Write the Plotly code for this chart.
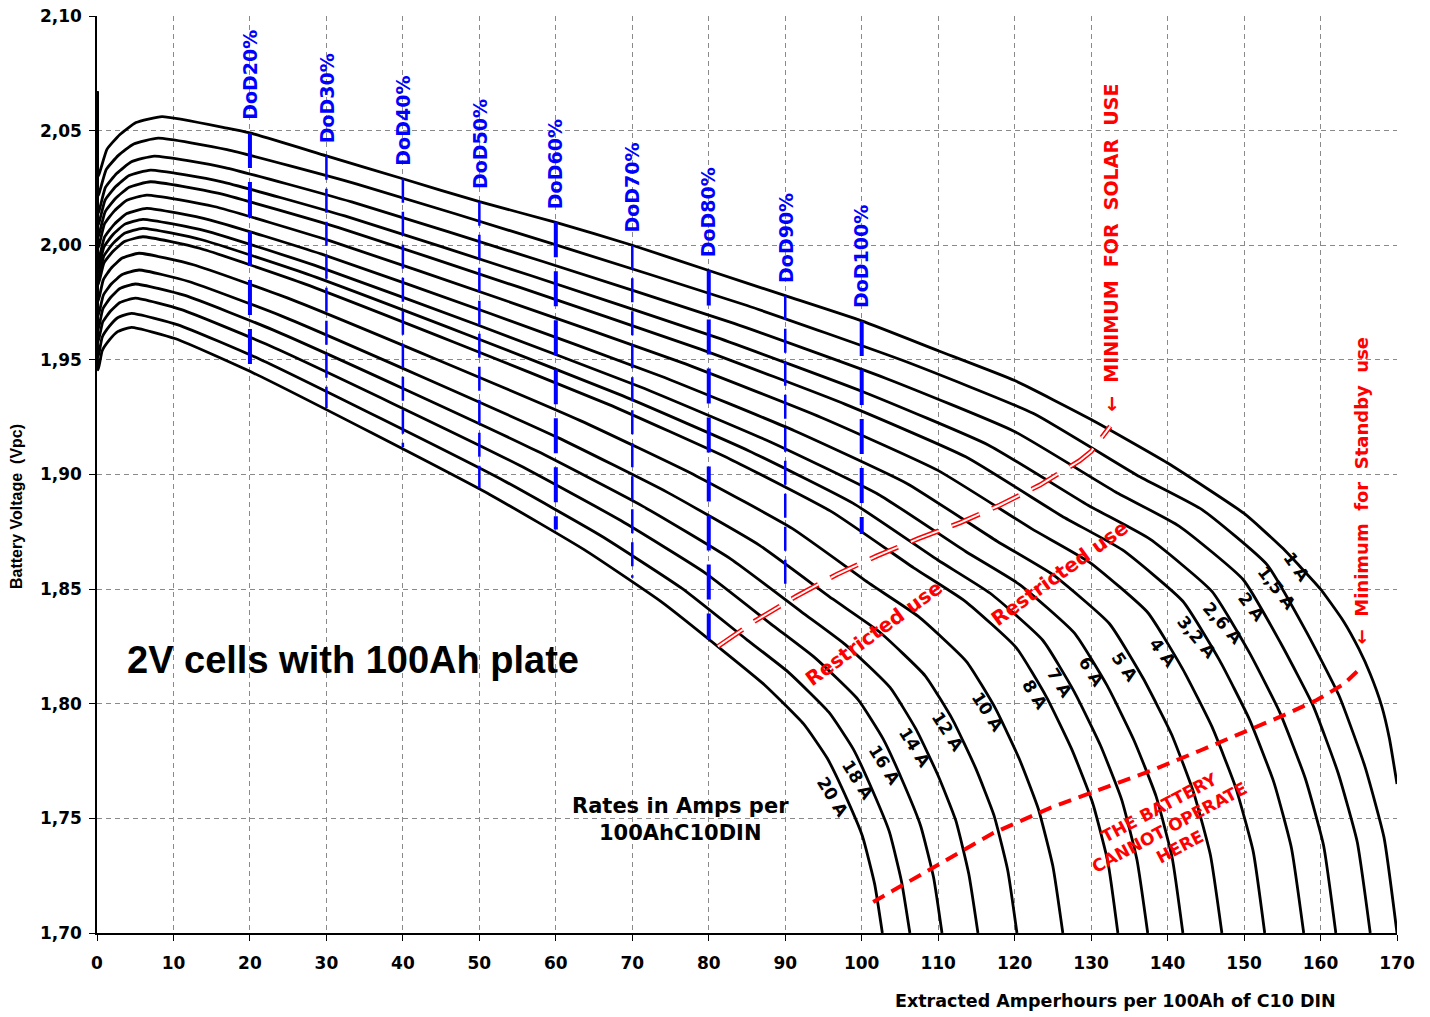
import plotly.graph_objects as go

# ---------------- data ----------------
curve_names = ["1 A", "1,5 A", "2 A", "2,6 A", "3,2 A", "4 A", "5 A", "6 A",
               "7 A", "8 A", "10 A", "12 A", "14 A", "16 A", "18 A", "20 A"]

x_1A = [0, 0.15, 1.3, 3, 5.1, 8.5, 17, 20, 30, 40, 50, 60, 70, 80, 90, 100, 110, 120, 130, 140, 150, 155, 160, 163, 165, 166.5, 168, 169, 170]
v_1A = [2.067, 2.0301, 2.0418, 2.0483, 2.0535, 2.0561, 2.0511, 2.049, 2.039, 2.029, 2.019, 2.010, 2.000, 1.989, 1.978, 1.967, 1.954, 1.941, 1.924, 1.905, 1.883, 1.868, 1.850, 1.836, 1.824, 1.813, 1.799, 1.785, 1.765]

x_1_5A = [0, 0.15, 1.2, 2.8, 4.8, 8, 17, 34, 59.5, 85, 105.4, 122.4, 136, 144.5, 153, 158.1, 162.4, 165.8, 168.3, 170]
v_1_5A = [2.067, 2.0217, 2.0330, 2.0392, 2.0442, 2.0467, 2.0417, 2.0267, 2.0007, 1.9737, 1.9497, 1.9267, 1.8997, 1.8847, 1.8607, 1.8317, 1.8037, 1.7727, 1.7417, 1.70]

x_2A = [0, 0.15, 1.1, 2.6, 4.5, 7.5, 16.7, 33.3, 58.3, 83.3, 103.2, 119.9, 133.2, 141.5, 149.9, 154.8, 159.0, 162.3, 164.8, 166.5]
v_2A = [2.067, 2.0139, 2.0252, 2.0314, 2.0364, 2.0389, 2.0339, 2.0189, 1.9929, 1.9659, 1.9419, 1.9189, 1.8924, 1.8775, 1.8541, 1.8264, 1.7994, 1.7698, 1.7397, 1.70]

x_2_6A = [0, 0.15, 1.05, 2.45, 4.2, 7, 16.2, 32.4, 56.7, 81, 100.4, 116.6, 129.6, 137.7, 145.8, 150.7, 154.7, 158.0, 160.4, 162]
v_2_6A = [2.067, 2.0088, 2.0196, 2.0256, 2.0304, 2.0328, 2.0278, 2.0128, 1.9868, 1.9598, 1.9358, 1.9128, 1.8866, 1.8718, 1.8490, 1.8223, 1.7960, 1.7675, 1.7382, 1.70]

x_3_2A = [0, 0.15, 1.05, 2.45, 4.2, 7, 15.8, 31.6, 55.2, 78.9, 97.8, 113.6, 126.2, 134.1, 142.0, 146.8, 150.7, 153.9, 156.2, 157.8]
v_3_2A = [2.067, 2.0037, 2.0145, 2.0205, 2.0253, 2.0277, 2.0227, 2.0077, 1.9817, 1.9547, 1.9307, 1.9077, 1.8818, 1.8671, 1.8447, 1.8189, 1.7932, 1.7657, 1.7370, 1.70]

x_4A = [0, 0.15, 0.98, 2.28, 3.9, 6.5, 15.3, 30.5, 53.4, 76.4, 94.7, 109.9, 122.2, 129.8, 137.4, 142.0, 145.8, 148.9, 151.2, 152.7]
v_4A = [2.067, 1.9989, 2.0093, 2.0150, 2.0196, 2.0219, 2.0169, 2.0019, 1.9759, 1.9489, 1.9249, 1.9019, 1.8764, 1.8617, 1.8398, 1.8150, 1.7900, 1.7635, 1.7355, 1.70]

x_5A = [0, 0.15, 0.98, 2.28, 3.9, 6.5, 14.7, 29.4, 51.5, 73.6, 91.2, 105.9, 117.7, 125.0, 132.4, 136.8, 140.5, 143.4, 145.6, 147.1]
v_5A = [2.067, 1.9931, 2.0035, 2.0092, 2.0138, 2.0161, 2.0111, 1.9961, 1.9701, 1.9431, 1.9191, 1.8961, 1.8709, 1.8563, 1.8349, 1.8111, 1.7868, 1.7613, 1.7340, 1.70]

x_6A = [0, 0.15, 0.9, 2.1, 3.6, 6, 14.2, 28.4, 49.7, 71.0, 88.0, 102.2, 113.6, 120.7, 127.8, 132.1, 135.6, 138.5, 140.6, 142.0]
v_6A = [2.067, 1.9893, 1.9992, 2.0047, 2.0091, 2.0113, 2.0063, 1.9913, 1.9653, 1.9383, 1.9143, 1.8913, 1.8664, 1.8519, 1.8309, 1.8079, 1.7841, 1.7596, 1.7328, 1.70]

x_7A = [0, 0.15, 0.9, 2.1, 3.6, 6, 13.7, 27.5, 48.1, 68.7, 85.2, 98.9, 109.9, 116.8, 123.7, 127.8, 131.2, 134.0, 136.0, 137.4]
v_7A = [2.067, 1.9854, 1.9953, 2.0008, 2.0052, 2.0074, 2.0024, 1.9874, 1.9614, 1.9344, 1.9104, 1.8874, 1.8628, 1.8482, 1.8276, 1.8052, 1.7820, 1.7581, 1.7318, 1.70]

x_8A = [0, 0.15, 0.9, 2.1, 3.6, 6, 13.4, 26.7, 46.7, 66.8, 82.8, 96.1, 106.8, 113.5, 120.2, 124.2, 127.5, 130.2, 132.2, 133.5]
v_8A = [2.067, 1.9827, 1.9922, 1.9974, 2.0016, 2.0037, 1.9987, 1.9837, 1.9577, 1.9307, 1.9067, 1.8837, 1.8593, 1.8448, 1.8245, 1.8027, 1.7799, 1.7567, 1.7309, 1.70]

x_10A = [0, 0.15, 0.83, 1.9, 3.3, 5.5, 12.6, 25.3, 44.2, 63.2, 78.3, 90.9, 101.0, 107.4, 113.7, 117.5, 120.6, 123.1, 125.0, 126.3]
v_10A = [2.067, 1.9755, 1.9850, 1.9902, 1.9944, 1.9965, 1.9915, 1.9765, 1.9505, 1.9235, 1.8995, 1.8765, 1.8525, 1.8381, 1.8184, 1.7979, 1.7760, 1.7541, 1.7291, 1.70]

x_12A = [0, 0.15, 0.83, 1.9, 3.3, 5.5, 12.0, 24.1, 42.1, 60.2, 74.6, 86.6, 96.2, 102.3, 108.3, 111.9, 114.9, 117.3, 119.1, 120.3]
v_12A = [2.067, 1.9692, 1.9782, 1.9832, 1.9872, 1.9892, 1.9842, 1.9692, 1.9432, 1.9162, 1.8922, 1.8692, 1.8457, 1.8314, 1.8122, 1.7930, 1.7719, 1.7513, 1.7273, 1.70]

x_14A = [0, 0.15, 0.75, 1.75, 3, 5, 11.5, 23.0, 40.3, 57.6, 71.4, 82.9, 92.2, 97.9, 103.7, 107.1, 110.0, 112.3, 114.0, 115.2]
v_14A = [2.067, 1.9631, 1.9721, 1.9771, 1.9811, 1.9831, 1.9781, 1.9631, 1.9371, 1.9101, 1.8861, 1.8631, 1.8399, 1.8257, 1.8071, 1.7889, 1.7686, 1.7491, 1.7258, 1.70]

x_16A = [0, 0.15, 0.75, 1.75, 3, 5, 11.05, 22.1, 38.7, 55.3, 68.5, 79.6, 88.4, 93.9, 99.5, 102.8, 105.5, 107.7, 109.4, 110.5]
v_16A = [2.067, 1.9579, 1.9665, 1.9712, 1.9750, 1.9769, 1.9719, 1.9569, 1.9309, 1.9039, 1.8799, 1.8569, 1.8341, 1.8200, 1.8019, 1.7847, 1.7651, 1.7468, 1.7242, 1.70]

x_18A = [0, 0.15, 0.68, 1.6, 2.7, 4.5, 10.6, 21.3, 37.2, 53.2, 65.9, 76.5, 85.0, 90.4, 95.7, 98.9, 101.5, 103.6, 105.2, 106.3]
v_18A = [2.067, 1.9513, 1.9599, 1.9646, 1.9684, 1.9703, 1.9653, 1.9503, 1.9243, 1.8973, 1.8733, 1.8503, 1.8279, 1.8138, 1.7963, 1.7802, 1.7615, 1.7443, 1.7226, 1.70]

x_20A = [0, 0.15, 0.68, 1.6, 2.7, 4.5, 10.3, 20.5, 35.9, 51.4, 63.7, 73.9, 82.2, 87.3, 92.4, 95.5, 98.1, 100.1, 101.7, 102.7]
v_20A = [2.067, 1.9456, 1.9540, 1.9586, 1.9623, 1.9642, 1.9592, 1.9442, 1.9182, 1.8912, 1.8672, 1.8442, 1.8222, 1.8082, 1.7912, 1.7762, 1.7582, 1.7422, 1.7212, 1.70]

# label anchor points for each current (data coordinates)
label_x = [156.9, 154.3, 151.0, 147.2, 143.8, 139.4, 134.4, 130.1, 125.9, 122.7, 116.5, 111.3, 107.0, 103.0, 99.5, 96.2]
label_v = [1.8597, 1.8505, 1.8422, 1.8352, 1.8291, 1.8221, 1.8160, 1.8140, 1.8091, 1.8038, 1.7964, 1.7877, 1.7807, 1.7733, 1.7667, 1.7593]

# Depth of discharge markers
dod_labels = ["DoD20%", "DoD30%", "DoD40%", "DoD50%", "DoD60%", "DoD70%", "DoD80%", "DoD90%", "DoD100%"]
dod_x = [20, 30, 40, 50, 60, 70, 80, 90, 100]
dod_top = [2.049, 2.039, 2.029, 2.019, 2.010, 2.000, 1.989, 1.978, 1.967]
dod_bottom = [1.945, 1.929, 1.912, 1.894, 1.876, 1.855, 1.828, 1.850, 1.874]

# Minimum for solar use (restricted-use boundary)
solar_x = [81.2, 86.0, 91.5, 96.8, 102.0, 107.4, 112.9, 118.1, 123.3, 128.5, 130.0, 132.5]
solar_v = [1.825, 1.836, 1.847, 1.8565, 1.8645, 1.872, 1.879, 1.8867, 1.8954, 1.906, 1.910, 1.921]

# Battery cannot operate boundary (minimum for standby use)
cannot_x = [101.5, 109.3, 117.2, 124.6, 131.2, 137.7, 144.2, 150.8, 155.2, 159.5, 163.0, 165.4]
cannot_v = [1.7135, 1.7283, 1.7436, 1.7545, 1.7624, 1.7706, 1.7795, 1.7886, 1.7950, 1.8016, 1.8085, 1.8160]

x_ticks = [0, 10, 20, 30, 40, 50, 60, 70, 80, 90, 100, 110, 120, 130, 140, 150, 160, 170]
y_ticks = [1.70, 1.75, 1.80, 1.85, 1.90, 1.95, 2.00, 2.05, 2.10]

# ---------------- figure ----------------
curve_x = [x_1A, x_1_5A, x_2A, x_2_6A, x_3_2A, x_4A, x_5A, x_6A, x_7A, x_8A,
           x_10A, x_12A, x_14A, x_16A, x_18A, x_20A]
curve_v = [v_1A, v_1_5A, v_2A, v_2_6A, v_3_2A, v_4A, v_5A, v_6A, v_7A, v_8A,
           v_10A, v_12A, v_14A, v_16A, v_18A, v_20A]

fig = go.Figure()

for name, xs, vs in zip(curve_names, curve_x, curve_v):
    fig.add_trace(go.Scatter(x=xs, y=vs, mode="lines", name=name,
                             line=dict(color="black", width=2.8, shape="spline", smoothing=0.45),
                             hoverinfo="skip", showlegend=False))

dod_width = [4, 2.5, 2.5, 2.5, 4, 2.5, 4, 2.5, 4]
dod_dash = ["35px,14px", "24px,9px", "24px,9px", "24px,9px", "35px,14px",
            "24px,9px", "35px,14px", "24px,9px", "35px,14px"]
for i, dx in enumerate(dod_x):
    fig.add_trace(go.Scatter(x=[dx, dx], y=[dod_top[i], dod_bottom[i]], mode="lines",
                             line=dict(color="#0000FF", width=dod_width[i], dash=dod_dash[i]),
                             hoverinfo="skip", showlegend=False))

# hollow red dashed line (double line look)
fig.add_trace(go.Scatter(x=solar_x, y=solar_v, mode="lines",
                         line=dict(color="#FF0000", width=5, dash="30px,14px"),
                         hoverinfo="skip", showlegend=False))
fig.add_trace(go.Scatter(x=solar_x, y=solar_v, mode="lines",
                         line=dict(color="white", width=2, dash="30px,14px"),
                         hoverinfo="skip", showlegend=False))

fig.add_trace(go.Scatter(x=cannot_x, y=cannot_v, mode="lines",
                         line=dict(color="#FF0000", width=4, dash="13px,8px"),
                         hoverinfo="skip", showlegend=False))

ann = []
label_angles = [55, 52, 52, 48, 50, 52, 55, 57, 58, 58, 57, 57, 58, 58, 58, 58]
for i, name in enumerate(curve_names):
    ann.append(dict(x=label_x[i], y=label_v[i], xref="x", yref="y", text=name,
                    showarrow=False, textangle=label_angles[i],
                    font=dict(family="DejaVu Sans", size=17, color="black", weight="bold")))

for i, lab in enumerate(dod_labels):
    ann.append(dict(x=dod_x[i], y=dod_top[i], xref="x", yref="y", text=lab,
                    showarrow=False, textangle=-90, xanchor="center", yanchor="bottom",
                    yshift=11,
                    font=dict(family="DejaVu Sans", size=19, color="#0000FF", weight="bold")))

red_font = dict(family="DejaVu Sans", color="#FF0000", weight="bold")
ann += [
    dict(x=101.6, y=1.831, xref="x", yref="y", text="Restricted use", showarrow=False,
         textangle=-36, font=dict(red_font, size=20)),
    dict(x=125.9, y=1.857, xref="x", yref="y", text="Restricted use", showarrow=False,
         textangle=-36, font=dict(red_font, size=20)),
    dict(x=140.3, y=1.7463, xref="x", yref="y", text="THE BATTERY<br>CANNOT OPERATE<br>HERE",
         showarrow=False, textangle=-28, align="center", font=dict(red_font, size=17)),
    dict(x=132.5, y=1.999, xref="x", yref="y", text="←  MINIMUM  FOR  SOLAR  USE",
         showarrow=False, textangle=-90, font=dict(red_font, size=19)),
    dict(x=165.4, y=1.893, xref="x", yref="y", text="←  Minimum  for  Standby  use",
         showarrow=False, textangle=-90, font=dict(red_font, size=18)),
    dict(x=3.66, y=1.8191, xref="x", yref="y", text="2V cells with 100Ah plate",
         showarrow=False, xanchor="left", yanchor="middle",
         font=dict(family="Liberation Sans", size=38, color="black", weight="bold")),
    dict(x=76.24, y=1.7493, xref="x", yref="y", text="Rates in Amps per<br>100AhC10DIN",
         showarrow=False, align="center",
         font=dict(family="DejaVu Sans", size=21, color="black", weight="bold")),
    dict(x=-0.0615, y=0.4646, xref="paper", yref="paper", text="Battery Voltage  (Vpc)",
         showarrow=False, textangle=-90, xanchor="center", yanchor="middle",
         font=dict(family="Liberation Sans", size=16, color="black", weight="bold")),
    dict(x=0.9546, y=-0.0742, xref="paper", yref="paper",
         text="Extracted Amperhours per 100Ah of C10 DIN", showarrow=False,
         xanchor="right", yanchor="middle",
         font=dict(family="DejaVu Sans", size=17.5, color="black", weight="bold")),
]

tick_font = dict(family="DejaVu Sans", size=17, color="black", weight="bold")
fig.update_layout(
    width=1430, height=1017,
    margin=dict(l=97, r=33, t=16, b=84, autoexpand=False),
    paper_bgcolor="white", plot_bgcolor="white",
    separators=",.",
    showlegend=False,
    annotations=ann,
    xaxis=dict(range=[0, 170], tickvals=x_ticks, ticks="outside", ticklen=6,
               tickcolor="black", showline=True, linecolor="black", linewidth=1.5,
               showgrid=True, gridcolor="#8a8a8a", gridwidth=1, griddash="5px,4px",
               zeroline=False, tickfont=tick_font, automargin=False,
               ticklabelstandoff=8),
    yaxis=dict(range=[1.70, 2.10], tickvals=y_ticks, tickformat=".2f", ticks="outside",
               ticklen=6, tickcolor="black", showline=True, linecolor="black", linewidth=1.5,
               showgrid=True, gridcolor="#8a8a8a", gridwidth=1, griddash="5px,4px",
               zeroline=False, tickfont=tick_font, automargin=False,
               ticklabelstandoff=4),
)

fig.write_html("out.html")
